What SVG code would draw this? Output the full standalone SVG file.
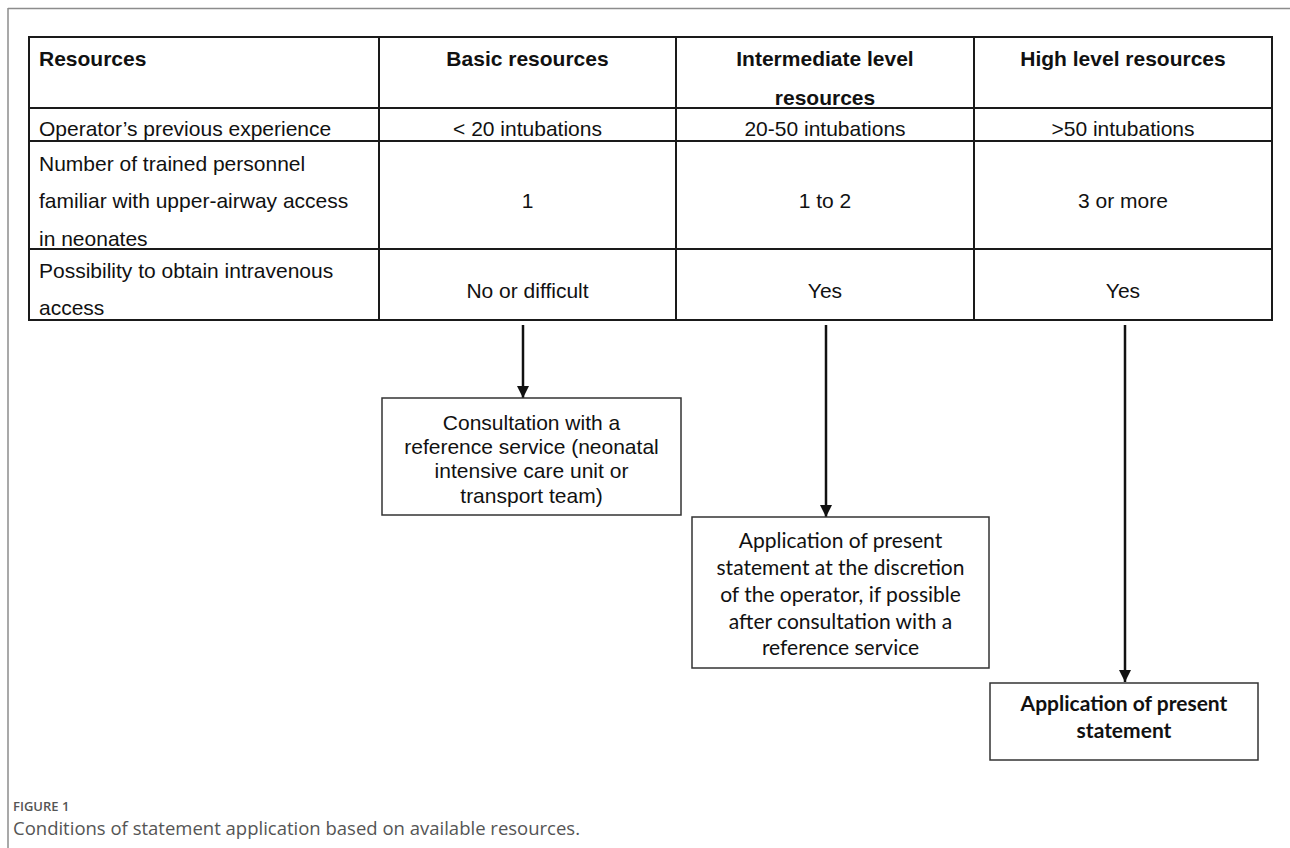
<svg xmlns="http://www.w3.org/2000/svg" width="1290" height="848" viewBox="0 0 1290 848">
<style>
.t{font-family:"Liberation Sans",Arial,sans-serif;font-size:21px;fill:#111}
.b{font-weight:bold}
.m{text-anchor:middle}
.grid{stroke:#1a1a1a;stroke-width:2;fill:none}
.box{fill:#fff;stroke:#333;stroke-width:1.5}
.cal{font-family:Lato,"Liberation Sans",sans-serif;font-size:21px;fill:#111;text-anchor:middle}
.edge{stroke:#111;stroke-width:2.5;fill:none}
.cap{font-family:"Open Sans","Liberation Sans",sans-serif;fill:#555}
</style>
<defs>
<marker id="arr" markerWidth="12" markerHeight="12" refX="10" refY="5" orient="auto" markerUnits="userSpaceOnUse" viewBox="0 0 10 10">
<path d="M0,0 L10,5 L0,10 Z" fill="#111"/>
</marker>
</defs>
<rect width="1290" height="848" fill="#fff"/>
<g id="frame" stroke="#8c8c8c" stroke-width="1.5" fill="none">
<line x1="8" y1="8.5" x2="1290" y2="8.5"/>
<line x1="8" y1="8" x2="8" y2="848"/>
</g>
<g id="table">
<rect class="grid" x="29" y="37" width="1243" height="283"/>
<line class="grid" x1="379" y1="37" x2="379" y2="320"/>
<line class="grid" x1="676" y1="37" x2="676" y2="320"/>
<line class="grid" x1="974" y1="37" x2="974" y2="320"/>
<line class="grid" x1="29" y1="108" x2="1272" y2="108"/>
<line class="grid" x1="29" y1="141" x2="1272" y2="141"/>
<line class="grid" x1="29" y1="249" x2="1272" y2="249"/>
<text class="t b" x="39" y="65.5">Resources</text>
<text class="t b m" x="527.5" y="65.5">Basic resources</text>
<text class="t b m" x="825" y="65.5">Intermediate level</text>
<text class="t b m" x="825" y="104.5">resources</text>
<text class="t b m" x="1123" y="65.5">High level resources</text>
<text class="t" x="39" y="136">Operator’s previous experience</text>
<text class="t m" x="527.5" y="136">&lt; 20 intubations</text>
<text class="t m" x="825" y="136">20-50 intubations</text>
<text class="t m" x="1123" y="136">&gt;50 intubations</text>
<text class="t" x="39" y="170.5">Number of trained personnel</text>
<text class="t" x="39" y="208">familiar with upper-airway access</text>
<text class="t" x="39" y="245.5">in neonates</text>
<text class="t m" x="527.5" y="207.5">1</text>
<text class="t m" x="825" y="207.5">1 to 2</text>
<text class="t m" x="1123" y="207.5">3 or more</text>
<text class="t" x="39" y="277.5">Possibility to obtain intravenous</text>
<text class="t" x="39" y="315">access</text>
<text class="t m" x="527.5" y="297.5">No or difficult</text>
<text class="t m" x="825" y="297.5">Yes</text>
<text class="t m" x="1123" y="297.5">Yes</text>
</g>
<g id="connectors">
<line class="edge" x1="523" y1="325" x2="523" y2="398" marker-end="url(#arr)"/>
<line class="edge" x1="826" y1="325" x2="826" y2="517" marker-end="url(#arr)"/>
<line class="edge" x1="1125" y1="325" x2="1125" y2="682" marker-end="url(#arr)"/>
</g>
<g id="consult">
<rect class="box" x="382" y="398" width="299" height="117"/>
<text class="t m" x="531.5" y="429.5">Consultation with a</text>
<text class="t m" x="531.5" y="454">reference service (neonatal</text>
<text class="t m" x="531.5" y="478">intensive care unit or</text>
<text class="t m" x="531.5" y="502.5">transport team)</text>
</g>
<g id="discretion">
<rect class="box" x="692" y="517" width="297" height="151"/>
<text class="cal" x="840.5" y="547.5">Application of present</text>
<text class="cal" x="840.5" y="575">statement at the discretion</text>
<text class="cal" x="840.5" y="602">of the operator, if possible</text>
<text class="cal" x="840.5" y="629">after consultation with a</text>
<text class="cal" x="840.5" y="655">reference service</text>
</g>
<g id="apply">
<rect class="box" x="990" y="683" width="268" height="77"/>
<text class="cal" x="1124" y="711" font-weight="bold" font-size="21.5">Application of present</text>
<text class="cal" x="1124" y="738" font-weight="bold" font-size="21.5">statement</text>
</g>
<g id="caption">
<text class="cap" x="13" y="811" font-size="13" font-weight="600" fill="#666">FIGURE 1</text>
<text class="cap" x="13" y="835" font-size="18.5">Conditions of statement application based on available resources.</text>
</g>
</svg>
